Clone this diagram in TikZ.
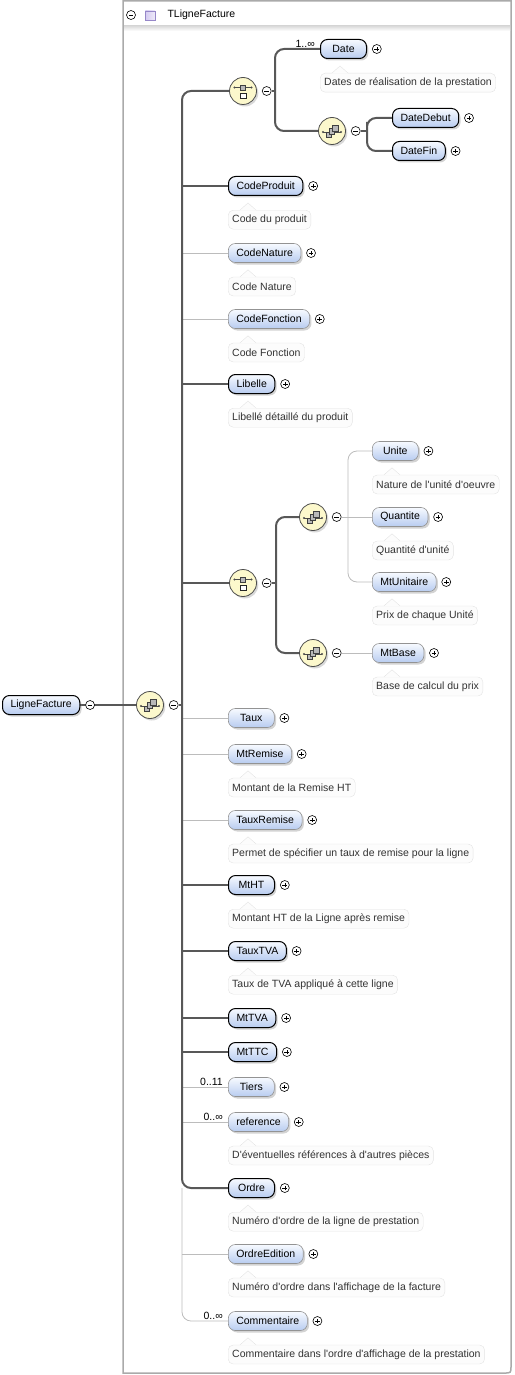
\documentclass[tikz,border=0pt]{standalone}
\usepackage{fontspec}
\setmainfont{Liberation Sans}
\usetikzlibrary{positioning, shadows, backgrounds, calc}
\definecolor{elemtop}{RGB}{247,250,255}
\definecolor{elemblue}{RGB}{184,204,240}
\definecolor{compfill}{RGB}{252,248,204}
\definecolor{linedark}{RGB}{88,88,88}
\definecolor{linelight}{RGB}{188,188,188}
\definecolor{framegray}{RGB}{170,170,170}
\definecolor{lavender}{RGB}{212,202,240}
\definecolor{lavedge}{RGB}{150,135,200}
\newcommand\apos{\textquotesingle}
\tikzset{
  txt/.style={font=\fontsize{10.5}{12}\selectfont},
  elem/.style={rectangle, rounded corners=7pt, draw=black, line width=1pt,
    top color=elemtop, bottom color=elemblue, anchor=west,
    minimum height=19pt, minimum width=46pt, inner xsep=8pt, inner ysep=0pt,
    txt, drop shadow={shadow xshift=1.8pt, shadow yshift=-2pt, opacity=0.35}},
  elemO/.style={elem, draw=gray!85, line width=0.6pt},
  annot/.style={rectangle, rounded corners=5pt, draw=gray!22, fill=gray!2,
    minimum height=19pt, inner xsep=4pt, inner ysep=0pt, txt, text=black!80},
  notch/.style={draw=gray!22, line width=0.4pt},
  mult/.style={txt, inner sep=1pt},
  pmc/.style={circle, draw=black, line width=0.6pt, fill=white,
    minimum size=9pt, inner sep=0pt},
  plusc/.style={pmc, path picture={
    \draw[line width=0.6pt]
      ($(path picture bounding box.center)+(-2.4pt,0pt)$) -- ++(4.8pt,0pt)
      ($(path picture bounding box.center)+(0pt,-2.4pt)$) -- ++(0pt,4.8pt);}},
  minusc/.style={pmc, path picture={
    \draw[line width=0.6pt]
      ($(path picture bounding box.center)+(-2.4pt,0pt)$) -- ++(4.8pt,0pt);}},
  comp/.style={circle, draw=black!70, line width=0.8pt, fill=compfill,
    minimum size=27pt, inner sep=0pt,
    drop shadow={shadow xshift=1.8pt, shadow yshift=-2pt, opacity=0.3}},
  seqc/.style={comp, path picture={
    \begin{scope}[shift={(path picture bounding box.center)}]
      \draw[black!70, line width=0.6pt] (-9pt,-1pt) -- (9pt,-1pt);
      \fill[black!70] (-9pt,-1pt) circle (1.1pt) (9pt,-1pt) circle (1.1pt);
      \draw[black!75, fill=gray!55, line width=0.5pt] (-6pt,-6.2pt) rectangle ++(5.4pt,5.4pt);
      \draw[black!75, fill=gray!55, line width=0.5pt] (-2.7pt,-3.1pt) rectangle ++(5.4pt,5.4pt);
      \draw[black!75, fill=gray!55, line width=0.5pt] (0.6pt,0pt) rectangle ++(5.4pt,5.4pt);
    \end{scope}}},
  choicec/.style={comp, path picture={
    \begin{scope}[shift={(path picture bounding box.center)}]
      \draw[black!70, line width=0.6pt] (-8.5pt,3.5pt) -- (8.5pt,3.5pt);
      \fill[black!70] (-8.5pt,3.5pt) circle (1.1pt) (8.5pt,3.5pt) circle (1.1pt);
      \draw[black!75, fill=gray!55, line width=0.5pt] (-2.7pt,0.8pt) rectangle (2.7pt,6.2pt);
      \draw[black!85, fill=white, line width=0.5pt] (-2.8pt,-7.4pt) rectangle (2.8pt,-1.8pt);
    \end{scope}}},
  mand/.style={draw=linedark, line width=2pt, rounded corners=9pt},
  opt/.style={draw=linelight, line width=0.8pt, rounded corners=9pt},
  frame/.style={draw=framegray, line width=1.5pt},
}
\begin{document}
\begin{tikzpicture}[x=1pt, y=-1pt]
  \useasboundingbox (0,0) rectangle (514,1375);

  % header of the complex type
  \node[minusc] (hdrm) at (131,15) {};
  \node[draw=lavedge, left color=lavender, right color=lavender!40,
        minimum size=9.5pt, inner sep=0pt] (hdrsq) at (150,15.5) {};
  \node[txt, anchor=west] (hdr) at (164,15) {TLigneFacture};

  % root and main sequence
  \node[elem] (root) at (2,705) {LigneFacture};
  \node[minusc, right=5pt of root] (rootm) {};
  \node[seqc] (seq0) at (150,705) {};
  \node[minusc, right=5pt of seq0] (seq0m) {};
  \coordinate (spine) at (182,705);

  % first choice: Date or DateDebut/DateFin
  \node[choicec] (ch1) at (243,91) {};
  \node[minusc, right=5pt of ch1] (ch1m) {};
  \coordinate (ch1bar) at (275,91);
  \node[elem] (date) at (320,49) {Date};
  \node[plusc, right=5pt of date] (datep) {};
  \node[mult, above left=0pt and 4pt of date.west] (datem) {1..∞};
  \node[seqc] (seq2) at (332,131) {};
  \node[minusc, right=5pt of seq2] (seq2m) {};
  \coordinate (seq2bar) at (367,131);
  \node[elem] (ddeb) at (392,118) {DateDebut};
  \node[plusc, right=5pt of ddeb] (ddebp) {};
  \node[elem] (dfin) at (392,151) {DateFin};
  \node[plusc, right=5pt of dfin] (dfinp) {};

  \node[elem]  (prod) at (228,186) {CodeProduit};
  \node[plusc, right=5pt of prod] (prodp) {};
  \node[elemO] (nat) at (228,253) {CodeNature};
  \node[plusc, right=5pt of nat] (natp) {};
  \node[elemO] (fonc) at (228,319) {CodeFonction};
  \node[plusc, right=5pt of fonc] (foncp) {};
  \node[elem]  (lib) at (228,384) {Libelle};
  \node[plusc, right=5pt of lib] (libp) {};

  % second choice: unit pricing or base amount
  \node[choicec] (ch2) at (243,583) {};
  \node[minusc, right=5pt of ch2] (ch2m) {};
  \coordinate (ch2bar) at (276,583);
  \node[seqc] (seq3) at (313,517) {};
  \node[minusc, right=5pt of seq3] (seq3m) {};
  \coordinate (seq3bar) at (348,517);
  \node[elemO] (unite) at (372,451) {Unite};
  \node[plusc, right=5pt of unite] (unitep) {};
  \node[elemO] (quant) at (372,517) {Quantite};
  \node[plusc, right=5pt of quant] (quantp) {};
  \node[elemO] (mtu) at (372,582) {MtUnitaire};
  \node[plusc, right=5pt of mtu] (mtup) {};
  \node[seqc] (seq4) at (313,653) {};
  \node[minusc, right=5pt of seq4] (seq4m) {};
  \node[elemO] (mtbase) at (372,653) {MtBase};
  \node[plusc, right=5pt of mtbase] (mtbasep) {};

  \node[elemO] (taux) at (228,718) {Taux};
  \node[plusc, right=5pt of taux] (tauxp) {};
  \node[elemO] (rem) at (228,754) {MtRemise};
  \node[plusc, right=5pt of rem] (remp) {};
  \node[elemO] (trem) at (228,820) {TauxRemise};
  \node[plusc, right=5pt of trem] (tremp) {};
  \node[elem]  (mtht) at (228,885) {MtHT};
  \node[plusc, right=5pt of mtht] (mthtp) {};
  \node[elem]  (ttva) at (228,951) {TauxTVA};
  \node[plusc, right=5pt of ttva] (ttvap) {};
  \node[elem]  (mttva) at (228,1018) {MtTVA};
  \node[plusc, right=5pt of mttva] (mttvap) {};
  \node[elem]  (mtttc) at (228,1052) {MtTTC};
  \node[plusc, right=5pt of mtttc] (mtttcp) {};
  \node[elemO] (tiers) at (228,1087) {Tiers};
  \node[plusc, right=5pt of tiers] (tiersp) {};
  \node[mult, above left=0pt and 4pt of tiers.west] (tiersm) {0..11};
  \node[elemO] (ref) at (228,1122) {reference};
  \node[plusc, right=5pt of ref] (refp) {};
  \node[mult, above left=0pt and 4pt of ref.west] (refm) {0..∞};
  \node[elem]  (ordre) at (228,1188) {Ordre};
  \node[plusc, right=5pt of ordre] (ordrep) {};
  \node[elemO] (oed) at (228,1254) {OrdreEdition};
  \node[plusc, right=5pt of oed] (oedp) {};
  \node[elemO] (comm) at (228,1321) {Commentaire};
  \node[plusc, right=5pt of comm] (commp) {};
  \node[mult, above left=0pt and 4pt of comm.west] (commm) {0..∞};

  % annotations
  \node[annot, below=14pt of date.south west, anchor=north west] (dateN) {Dates de réalisation de la prestation};
  \node[annot, below=14pt of prod.south west, anchor=north west] (prodN) {Code du produit};
  \node[annot, below=14pt of nat.south west, anchor=north west] (natN) {Code Nature};
  \node[annot, below=14pt of fonc.south west, anchor=north west] (foncN) {Code Fonction};
  \node[annot, below=14pt of lib.south west, anchor=north west] (libN) {Libellé détaillé du produit};
  \node[annot, below=14pt of unite.south west, anchor=north west] (uniteN) {Nature de l\apos unité d\apos oeuvre};
  \node[annot, below=14pt of quant.south west, anchor=north west] (quantN) {Quantité d\apos unité};
  \node[annot, below=14pt of mtu.south west, anchor=north west] (mtuN) {Prix de chaque Unité};
  \node[annot, below=14pt of mtbase.south west, anchor=north west] (mtbaseN) {Base de calcul du prix};
  \node[annot, below=14pt of rem.south west, anchor=north west] (remN) {Montant de la Remise HT};
  \node[annot, below=14pt of trem.south west, anchor=north west] (tremN) {Permet de spécifier un taux de remise pour la ligne};
  \node[annot, below=14pt of mtht.south west, anchor=north west] (mthtN) {Montant HT de la Ligne après remise};
  \node[annot, below=14pt of ttva.south west, anchor=north west] (ttvaN) {Taux de TVA appliqué à cette ligne};
  \node[annot, below=14pt of ref.south west, anchor=north west] (refN) {D\apos éventuelles références à d\apos autres pièces};
  \node[annot, below=14pt of ordre.south west, anchor=north west] (ordreN) {Numéro d\apos ordre de la ligne de prestation};
  \node[annot, below=14pt of oed.south west, anchor=north west] (oedN) {Numéro d\apos ordre dans l\apos affichage de la facture};
  \node[annot, below=14pt of comm.south west, anchor=north west] (commN) {Commentaire dans l\apos ordre d\apos affichage de la prestation};

  \foreach \a in {dateN,prodN,natN,foncN,libN,uniteN,quantN,mtuN,mtbaseN,
                  remN,tremN,mthtN,ttvaN,refN,ordreN,oedN,commN} {
    \fill[gray!2] ([xshift=12pt,yshift=-0.6pt]\a.north west) -- ([xshift=20pt,yshift=7pt]\a.north west)
      -- ([xshift=28pt,yshift=-0.6pt]\a.north west) -- cycle;
    \draw[notch] ([xshift=12pt]\a.north west) -- ([xshift=20pt,yshift=7pt]\a.north west)
      -- ([xshift=28pt]\a.north west);
  }

  \begin{scope}[on background layer]
    % frame
    \draw[frame] (123,1) -- (511,1) -- (511,1366) .. controls (511,1373) .. (504,1373)
      -- (123,1373) -- cycle;
    \shade[top color=gray!28, bottom color=white] (124,26) rectangle (510,31);

    \draw[mand] (root.east) -- (seq0.west);
    \draw[mand] (seq0m.east) -- (spine);

    % optional branches of the main sequence
    \foreach \n in {nat,fonc,taux,rem,trem,tiers,ref,oed}
      \draw[opt] (spine |- \n.west) -- (\n.west);
    \draw[opt] (ordre.west -| spine) |- (comm.west);

    % mandatory branches
    \draw[mand] (ch1.west) -| (spine) |- (ordre.west);
    \foreach \n in {prod,lib,ch2,mtht,ttva,mttva,mtttc}
      \draw[mand] (spine |- \n.west) -- (\n.west);

    \draw[mand] (ch1m.east) -- (ch1bar);
    \draw[mand] (date.west) -| (ch1bar) |- (seq2.west);
    \draw[mand] (seq2m.east) -- (seq2bar);
    \draw[mand] (ddeb.west) -| (seq2bar) |- (dfin.west);

    \draw[mand] (ch2m.east) -- (ch2bar);
    \draw[mand] (seq3.west) -| (ch2bar) |- (seq4.west);
    \draw[opt] (seq3m.east) -- (quant.west);
    \draw[opt] (unite.west) -| (seq3bar) |- (mtu.west);
    \draw[opt] (seq4m.east) -- (mtbase.west);
  \end{scope}
\end{tikzpicture}
\end{document}
